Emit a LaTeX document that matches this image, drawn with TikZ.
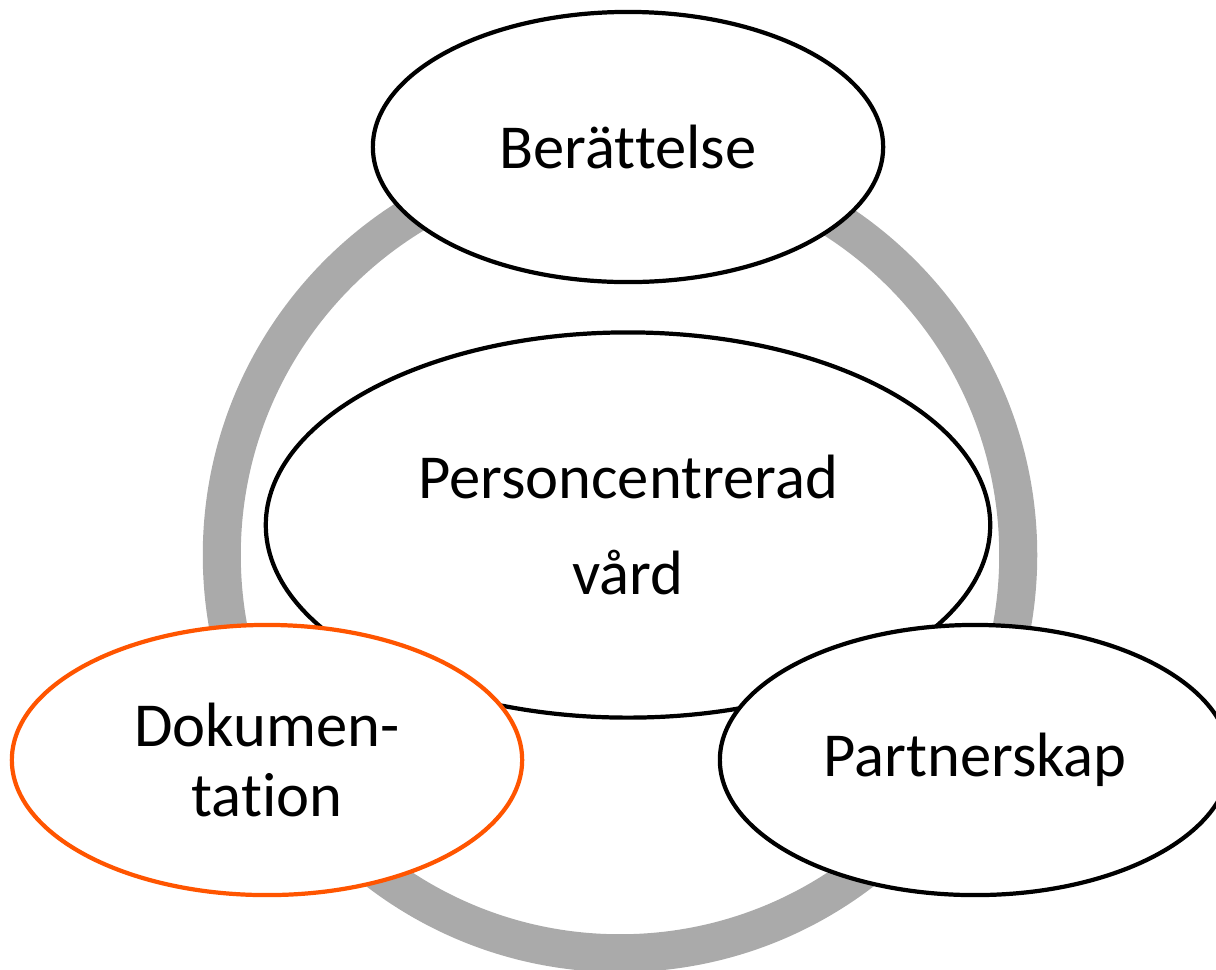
\documentclass[tikz,border=0pt]{standalone}
\usepackage{fontspec}
\setmainfont[Ligatures=NoCommon]{Carlito}
\usetikzlibrary{shapes.geometric}

\begin{document}
\begin{tikzpicture}
[	
	x=0.01cm,y=-0.01cm,
	el/.style={ellipse,draw,fill=white,line width=1.2pt,inner sep=0pt,align=center,font=\fontsize{17.8}{27.5}\selectfont},
	small/.style={el,minimum width=5.1cm,minimum height=2.7cm},
	ring/.style={line width=0.38cm,draw=ringgrey}
]
\definecolor{ringgrey}{HTML}{AAAAAA}
\definecolor{docorange}{HTML}{FF5500}

\useasboundingbox (0,0) rectangle (1216,969);
\clip (0,0) rectangle (1216,969);

\coordinate (mid) at (620,555);
\draw[ring] (mid) circle (3.98cm);

\node[el,minimum width=7.24cm,minimum height=3.85cm] (pcv) at (628,525) {Personcentrerad\\vård};

\node[small] (ber) at (628,147) {Berättelse};
\node[small,draw=docorange,font=\fontsize{17.8}{19.7}\selectfont] (dok) at (267,760) {Dokumen-\\tation};
\node[small] (par) at (975,760) {Partnerskap};

\end{tikzpicture}
\end{document}
